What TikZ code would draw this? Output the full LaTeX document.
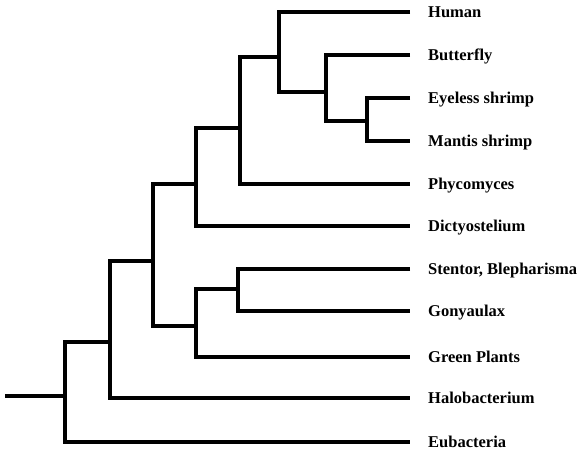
\documentclass[tikz,border=0pt]{standalone}
\usepackage{fontspec}
\setmainfont{Liberation Serif}

\begin{document}
\begin{tikzpicture}[
  x=1pt, y=-1pt,
  branch/.style ={draw, line width=3.3pt, line cap=butt, line join=miter},
  taxon/.style  ={anchor=west, inner xsep=18pt, inner ysep=0pt,
                  text height=11pt, text depth=0pt,
                  font=\fontsize{16.5}{18}\selectfont\bfseries}
]
\useasboundingbox (0,0) rectangle (583,452);

%%% ---- TAXA (leaf tips end at x = 410) ---------------------------------
\node[taxon] (human)     at (410, 12) {Human};
\node[taxon] (butterfly) at (410, 55) {Butterfly};
\node[taxon] (eyeless)   at (410, 98) {Eyeless shrimp};
\node[taxon] (mantis)    at (410,141) {Mantis shrimp};
\node[taxon] (phyco)     at (410,184) {Phycomyces};
\node[taxon] (dicty)     at (410,226) {Dictyostelium};
\node[taxon] (stentor)   at (410,269) {Stentor, Blepharisma};
\node[taxon] (gony)      at (410,311) {Gonyaulax};
\node[taxon] (green)     at (410,357) {Green Plants};
\node[taxon] (halo)      at (410,398) {Halobacterium};
\node[taxon] (eubac)     at (410,442) {Eubacteria};

%%% ---- INTERNAL NODES (x of the split, y where the parent joins) -------
\coordinate (stem)   at (  5,396);
\coordinate (root)   at ( 65,396);
\coordinate (nHalo)  at (110,342);
\coordinate (nDP)    at (153,261);
\coordinate (nDicty) at (196,184);
\coordinate (nPlant) at (196,326);
\coordinate (nSte)   at (238,289);
\coordinate (nPhy)   at (240,128);
\coordinate (nHum)   at (279, 57);
\coordinate (nBut)   at (326, 92);
\coordinate (nShr)   at (367,121);

%%% ---- BRANCHES ---------------------------------------------------------
\draw[branch] (stem) -- (root);
\draw[branch] (nHalo)  -| (root)   |- (eubac.west);
\draw[branch] (nDP)    -| (nHalo)  |- (halo.west);
\draw[branch] (nDicty) -| (nDP)    |- (nPlant);
\draw[branch] (nPhy)   -| (nDicty) |- (dicty.west);
\draw[branch] (nHum)   -| (nPhy)   |- (phyco.west);
\draw[branch] (human.west)     -| (nHum)  |- (nBut);
\draw[branch] (butterfly.west) -| (nBut)  |- (nShr);
\draw[branch] (eyeless.west)   -| (nShr)  |- (mantis.west);
\draw[branch] (nSte)   -| (nPlant) |- (green.west);
\draw[branch] (stentor.west)   -| (nSte)  |- (gony.west);

\end{tikzpicture}
\end{document}
